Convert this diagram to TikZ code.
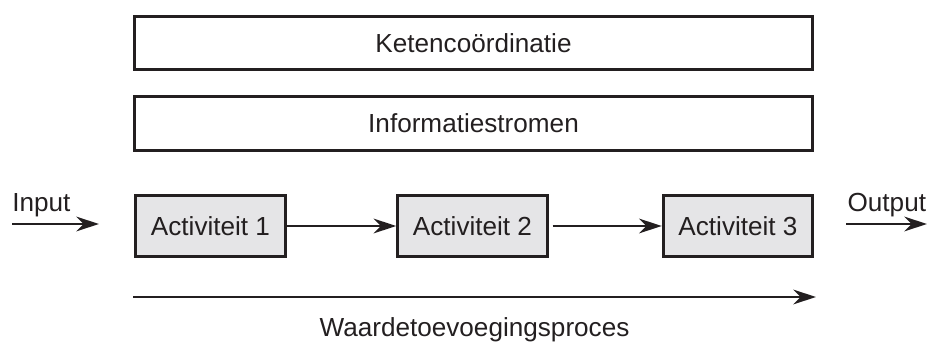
\documentclass[tikz,border=0pt]{standalone}
\usepackage{fontspec}
\setmainfont{Liberation Sans}
\usetikzlibrary{arrows.meta,positioning}
\definecolor{ink}{RGB}{35,31,32}
\definecolor{actfill}{RGB}{229,229,231}
\begin{document}
\begin{tikzpicture}[x=0.75pt,y=-0.75pt,font=\fontsize{19.6}{22}\selectfont,text=ink]
\tikzstyle{band}=[draw=ink,line width=2.3pt,minimum width=508pt,minimum height=40pt,inner sep=0pt]
\tikzstyle{act}=[draw=ink,fill=actfill,line width=2.3pt,minimum width=112pt,minimum height=46pt,inner sep=0pt]
\tikzstyle{flow}=[draw=ink,line width=2.2pt,-{Stealth[length=17pt,width=11pt,inset=5.5pt]}]
\useasboundingbox (0,0) rectangle (935,345);
\path (473.5,43) node[band] (keten) {Ketencoördinatie};
\path (473.5,123.5) node[band] (info) {Informatiestromen};
\foreach \n/\x in {1/210.5, 2/472.5, 3/738}{
\path (\x,226) node[act] (a\n) {Activiteit \n};
}
\draw[flow] (a1) -- (a2);
\draw[flow] ([xshift=3pt]a2.east) -- (a3);
% in- en uitvoer
\coordinate (inA) at (12,224);
\coordinate (inB) at (99,224);
\coordinate (outA) at (846,224);
\coordinate (outB) at (927,224);
\draw[flow] (inA) -- (inB);
\draw[flow] (outA) -- (outB);
\path (inA) node[above right,inner sep=0pt,yshift=5pt] (inlab) {Input};
\path (outA) node[above right,inner sep=0pt,yshift=5pt,xshift=1pt] (outlab) {Output};
% waardeketen
\coordinate (wA) at (133,297);
\coordinate (wB) at (816,297);
\draw[flow] (wA) -- (wB);
\path (wA) -- (wB) node[midway,below=12pt] (waarde) {Waardetoevoegingsproces};
\end{tikzpicture}
\end{document}
